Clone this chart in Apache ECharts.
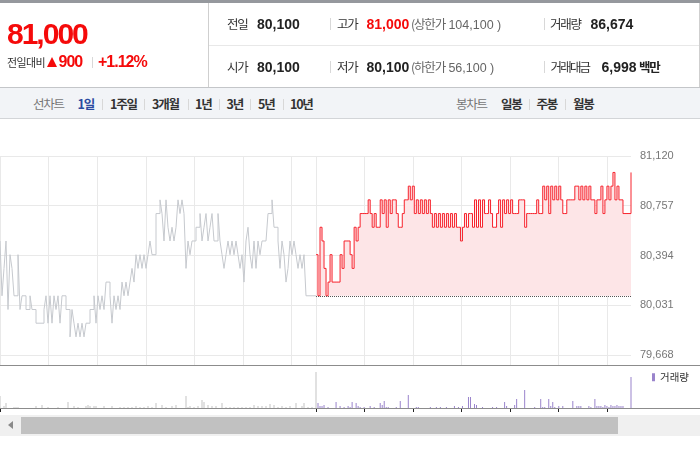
<!DOCTYPE html>
<html><head><meta charset="utf-8">
<script src="https://cdn.jsdelivr.net/npm/echarts@6/dist/echarts.min.js"></script>
<style>
html,body{margin:0;padding:0;width:700px;height:450px;overflow:hidden;background:#fff;font-family:"Liberation Sans","Noto Sans CJK KR",sans-serif;}
#c{position:absolute;left:0;top:0;width:700px;height:450px;z-index:1;}
.a{position:absolute;white-space:nowrap;line-height:20px;z-index:2;}
.k{font-family:"Noto Sans CJK KR",sans-serif;letter-spacing:-1.2px;}
.n{font-family:"Liberation Sans",sans-serif;font-weight:bold;font-size:14px;color:#222;}
.sep{position:absolute;width:1px;background:#d8d8d8;z-index:2;}
.box{position:absolute;z-index:2;}
</style></head><body>
<div id="c"></div>

<div class="box" style="left:0;top:0;width:700px;height:3px;background:#95989d"></div>
<div class="box" style="left:208px;top:3px;width:1px;height:84px;background:#cfcfcf"></div>
<div class="box" style="left:699px;top:3px;width:1px;height:84px;background:#cfcfcf"></div>
<div class="box" style="left:209px;top:45px;width:490px;height:1px;background:#e8e8e8"></div>

<div class="a" style="left:7px;top:19px;line-height:30px;font-size:30px;font-weight:bold;color:#f50a0a;letter-spacing:-2px">81,000</div>
<div class="a k" style="left:7px;top:52px;font-size:11px;color:#333;letter-spacing:-0.6px">전일대비</div>
<div class="box" style="left:47px;top:56.5px;width:0;height:0;border-left:5.5px solid transparent;border-right:5.5px solid transparent;border-bottom:10px solid #f50a0a"></div>
<div class="a" style="left:58.5px;top:52px;font-size:16px;font-weight:bold;color:#f50a0a;letter-spacing:-1px">900</div>
<div class="sep" style="left:92px;top:57px;height:11px"></div>
<div class="a" style="left:98px;top:52px;font-size:16px;font-weight:bold;color:#f50a0a;letter-spacing:-1px">+1.12%</div>

<div class="a k" style="left:227px;top:14px;font-size:12.5px;color:#333">전일</div>
<div class="a n" style="left:257px;top:14px">80,100</div>
<div class="sep" style="left:330px;top:18px;height:12px"></div>
<div class="a k" style="left:337px;top:14px;font-size:12.5px;color:#333">고가</div>
<div class="a n" style="left:366.5px;top:14px;color:#f50a0a">81,000</div>
<div class="a" style="left:411px;top:14px;font-size:12.5px;color:#666"><span class="k">(상한가</span> 104,100 )</div>
<div class="sep" style="left:544px;top:18px;height:12px"></div>
<div class="a k" style="left:550px;top:14px;font-size:12.5px;color:#333">거래량</div>
<div class="a n" style="left:590.5px;top:14px">86,674</div>

<div class="a k" style="left:227px;top:57px;font-size:12.5px;color:#333">시가</div>
<div class="a n" style="left:257px;top:57px">80,100</div>
<div class="sep" style="left:330px;top:61px;height:12px"></div>
<div class="a k" style="left:337px;top:57px;font-size:12.5px;color:#333">저가</div>
<div class="a n" style="left:366.5px;top:57px">80,100</div>
<div class="a" style="left:411px;top:57px;font-size:12.5px;color:#666"><span class="k">(하한가</span> 56,100 )</div>
<div class="sep" style="left:544px;top:61px;height:12px"></div>
<div class="a k" style="left:550.5px;top:57px;font-size:12.5px;color:#333;letter-spacing:-1.8px">거래대금</div>
<div class="a n" style="left:601.5px;top:57px">6,998</div>
<div class="a k" style="left:639px;top:57px;font-size:12.5px;color:#222;font-weight:bold">백만</div>

<div class="box" style="left:0;top:87px;width:700px;height:30px;background:#f2f4f7;border-top:1px solid #c4c6c9;border-bottom:1px solid #d3d5d8"></div>
<div class="a k" style="left:33px;top:94px;font-size:12.5px;color:#777">선차트</div>
<div class="a k" style="left:77.5px;top:94px;font-size:12.5px;color:#2b4aa0;font-weight:bold">1일</div>
<div class="sep" style="left:101.5px;top:99px;height:11px"></div>
<div class="a k" style="left:110px;top:94px;font-size:12.5px;color:#333;font-weight:bold">1주일</div>
<div class="sep" style="left:144px;top:99px;height:11px"></div>
<div class="a k" style="left:152px;top:94px;font-size:12.5px;color:#333;font-weight:bold">3개월</div>
<div class="sep" style="left:187.5px;top:99px;height:11px"></div>
<div class="a k" style="left:195px;top:94px;font-size:12.5px;color:#333;font-weight:bold">1년</div>
<div class="sep" style="left:219px;top:99px;height:11px"></div>
<div class="a k" style="left:226.5px;top:94px;font-size:12.5px;color:#333;font-weight:bold">3년</div>
<div class="sep" style="left:250px;top:99px;height:11px"></div>
<div class="a k" style="left:258px;top:94px;font-size:12.5px;color:#333;font-weight:bold">5년</div>
<div class="sep" style="left:282.5px;top:99px;height:11px"></div>
<div class="a k" style="left:290px;top:94px;font-size:12.5px;color:#333;font-weight:bold">10년</div>
<div class="a k" style="left:456px;top:94px;font-size:12.5px;color:#777">봉차트</div>
<div class="a k" style="left:501px;top:94px;font-size:12.5px;color:#333;font-weight:bold">일봉</div>
<div class="sep" style="left:529px;top:99px;height:11px"></div>
<div class="a k" style="left:536.5px;top:94px;font-size:12.5px;color:#333;font-weight:bold">주봉</div>
<div class="sep" style="left:565px;top:99px;height:11px"></div>
<div class="a k" style="left:573px;top:94px;font-size:12.5px;color:#333;font-weight:bold">월봉</div>

<div class="box" style="left:0;top:365px;width:700px;height:1px;background:#8c8c8c"></div>
<div class="box" style="left:0;top:408px;width:700px;height:1px;background:#8c8c8c"></div>

<div class="box" style="left:0;top:415px;width:700px;height:21px;background:#f0f0f0"></div>
<div class="box" style="left:8px;top:421px;width:0;height:0;border-top:4.5px solid transparent;border-bottom:4.5px solid transparent;border-right:5px solid #8a8a8a"></div>
<div class="box" style="left:21px;top:417px;width:597px;height:17px;background:#c1c1c1"></div>

<script>
// previous session (gray), sampled evenly from 09:00 to 15:30
const prevPrices = [
80500,80100,80300,80500,80000,80400,80300,80100,80100,80400,
80000,80100,80100,80000,80000,80100,80000,80000,79900,79900,
79900,79900,80000,80100,79900,80100,79900,80100,80000,80100,
79900,80100,80100,80000,80000,79800,80000,79900,79800,79900,
79800,79900,79800,79900,79900,80000,80000,80100,79900,80100,
80000,80100,80000,80200,80200,80100,79900,80100,80000,80100,
80000,80200,80100,80200,80100,80200,80300,80200,80400,80300,
80400,80300,80400,80300,80400,80500,80400,80400,80700,80700,
80800,80700,80500,80800,80600,80500,80600,80500,80600,80800,
80700,80800,80700,80300,80500,80400,80500,80500,80600,80600,
80700,80500,80600,80700,80500,80600,80700,80500,80500,80700,
80500,80400,80300,80400,80500,80400,80500,80400,80500,80400,
80300,80400,80200,80500,80600,80400,80300,80500,80300,80500,
80400,80500,80500,80500,80700,80700,80800,80600,80600,80500,
80300,80500,80400,80200,80300,80500,80400,80500,80400,80300,
80400,80300,80400,80100,80100,80100,80100,80100,80100];
// today's session (red), sampled evenly from 09:00 to 15:30
const todayPrices = [
80400,80100,80600,80500,80300,80100,80200,80400,80200,80200,
80200,80200,80400,80300,80500,80500,80500,80400,80300,80600,
80500,80600,80700,80700,80700,80700,80800,80700,80600,80700,
80600,80600,80800,80700,80800,80600,80800,80700,80800,80800,
80700,80600,80600,80700,80800,80800,80900,80800,80900,80700,
80800,80700,80800,80700,80800,80700,80800,80700,80600,80700,
80600,80700,80600,80700,80600,80700,80600,80700,80600,80700,
80600,80600,80500,80600,80700,80600,80700,80700,80600,80800,
80600,80800,80600,80800,80700,80700,80800,80700,80600,80600,
80700,80800,80600,80800,80700,80800,80700,80800,80700,80700,
80700,80800,80800,80800,80600,80700,80700,80700,80700,80700,
80800,80700,80700,80900,80800,80900,80700,80900,80800,80900,
80800,80900,80800,80700,80700,80800,80800,80800,80800,80900,
80900,80800,80900,80800,80900,80800,80900,80800,80800,80700,
80800,80800,80900,80700,80800,80900,80800,80900,81000,80800,
80900,80800,80800,80700,80700,80700,80700,81000];
const prevVolumes = [
2400,0,400,1000,0,0,0,200,200,200,
0,0,0,0,0,0,0,0,400,0,
0,600,0,0,200,0,0,0,0,200,
0,0,0,0,1200,0,0,400,0,200,
0,0,0,400,600,400,0,400,400,0,
0,0,400,0,0,0,400,0,0,0,
200,0,200,0,200,0,200,0,400,0,
200,0,200,0,400,0,200,0,1000,0,
0,600,0,200,0,0,400,0,600,0,
0,0,0,2400,200,400,0,200,0,400,
0,1600,1200,0,600,0,400,0,400,0,
0,1000,0,200,0,200,0,200,0,200,
0,200,0,200,0,200,0,600,0,400,
0,400,0,400,0,800,0,600,0,200,
0,400,0,200,0,400,0,0,1000,0,
0,400,1000,0,200,0,200,0,7200];
const todayVolumes = [
0,1000,400,400,600,0,200,0,0,0,
1200,0,400,0,200,0,400,200,1200,0,
1000,400,200,0,200,0,0,400,0,200,
0,0,1000,600,1400,200,200,0,0,0,
200,0,1400,0,0,0,2600,0,0,0,
200,200,0,0,0,0,0,200,0,0,
200,0,200,0,0,200,0,0,0,400,
0,200,0,400,0,0,2200,2200,0,800,
600,0,0,200,0,0,0,0,200,0,
200,0,0,0,1200,400,0,0,0,600,
1800,0,0,0,3600,0,0,0,0,200,
0,0,1800,200,200,0,1800,400,1200,200,
0,400,0,400,0,0,0,0,1400,0,
400,400,400,0,0,0,400,200,0,1800,
400,400,400,200,600,400,200,600,400,400,
600,400,400,400,0,0,0,6200];
const priceTicks = [79668, 80031, 80394, 80757, 81120];
const hourTicks = [0, 60, 120, 180, 240, 300, 360];
const prevClose = 80100;
const sessionMinutes = 390;
const priceAxisMin = 79595, priceAxisMax = 81120, volumeAxisMax = 8600;

const timed = (arr) => arr.map((v, i) => [i * sessionMinutes / (arr.length - 1), v]);

const grid = (left, top, width, height) => ({left, top, width, height});
const gridColor = '#e9e9e9';
const xPrice = (gi) => ({
  gridIndex: gi, type: 'value', min: 0, max: sessionMinutes,
  axisLine: {show: false},
  axisTick: {show: false, customValues: hourTicks},
  axisLabel: {show: false, customValues: hourTicks},
  splitLine: {show: true, lineStyle: {color: gridColor, width: 1}}
});
const xVol = (gi, ticks) => ({
  gridIndex: gi, type: 'value', min: 0, max: sessionMinutes,
  axisLine: {show: false},
  axisTick: {show: true, length: 4, inside: false, customValues: ticks, lineStyle: {color: '#222', width: 1}},
  axisLabel: {show: false, customValues: ticks},
  splitLine: {show: false}
});
const yPrice = (gi, showLabel) => ({
  gridIndex: gi, type: 'value', min: priceAxisMin, max: priceAxisMax,
  position: 'right', scale: true,
  axisLine: {show: false},
  axisTick: {show: false, customValues: priceTicks},
  axisLabel: {show: showLabel, customValues: priceTicks, margin: 9, color: '#777', fontSize: 11,
    fontFamily: 'Liberation Sans', formatter: (v) => v.toLocaleString('en-US')},
  splitLine: {show: true, lineStyle: {color: gridColor, width: 1}}
});
const yVol = (gi) => ({gridIndex: gi, type: 'value', min: 0, max: volumeAxisMax, show: false, splitLine: {show: false}});

const chart = echarts.init(document.getElementById('c'), null, {renderer: 'canvas'});
chart.setOption({
  animation: false,
  backgroundColor: 'transparent',
  grid: [grid(0, 156, 316, 209), grid(316, 156, 315, 209), grid(0, 365, 316, 43), grid(316, 365, 315, 43)],
  xAxis: [xPrice(0), xPrice(1), xVol(2, [0]), xVol(3, hourTicks)],
  yAxis: [yPrice(0, false), yPrice(1, true), yVol(2), yVol(3)],
  legend: {
    data: ['거래량'], left: 652, top: 372, padding: 0, icon: 'rect', itemWidth: 3, itemHeight: 8,
    textStyle: {fontSize: 10.5, color: '#333', fontFamily: 'Noto Sans CJK KR'}, selectedMode: false
  },
  series: [
    {type: 'line', name: '전일', xAxisIndex: 0, yAxisIndex: 0, data: timed(prevPrices), symbol: 'none', silent: true,
      step: 'end', lineStyle: {color: '#c6c9ce', width: 1}},
    {type: 'line', name: '당일', xAxisIndex: 1, yAxisIndex: 1, data: timed(todayPrices), symbol: 'none', silent: true,
      step: 'end', lineStyle: {color: '#f7222c', width: 1},
      areaStyle: {color: '#fde5e7', opacity: 1, origin: prevClose},
      markLine: {symbol: 'none', silent: true, label: {show: false},
        lineStyle: {color: '#555', type: 'dotted', width: 1}, data: [{yAxis: prevClose}]}},
    {type: 'bar', name: '전일거래량', xAxisIndex: 2, yAxisIndex: 2, data: timed(prevVolumes), barWidth: 1, silent: true,
      itemStyle: {color: '#c3c3c3'}},
    {type: 'bar', name: '거래량', xAxisIndex: 3, yAxisIndex: 3, data: timed(todayVolumes), barWidth: 1, silent: true,
      itemStyle: {color: '#9a84cc'}}
  ]
});
</script>
</body></html>
